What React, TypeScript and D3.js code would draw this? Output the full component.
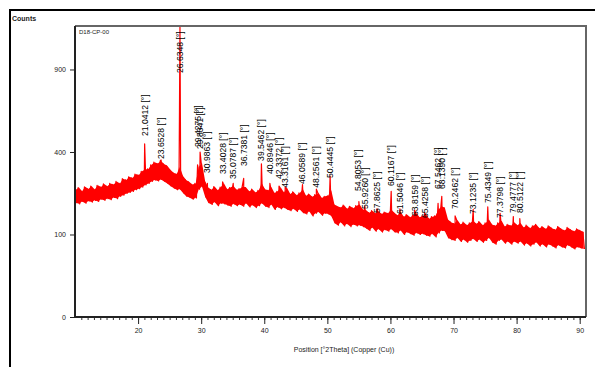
import React, { useRef, useEffect } from 'react';
import * as d3 from 'd3';

// scan starts at 10 °2Theta, one min/max pair of counts every 0.5°
const scanStart = 10;
const scanStep = 0.5;

// upper edge of the noisy band (counts)
const bandHigh = [
    238, 246, 232, 249, 241, 252, 239, 255, 248, 260,
    251, 262, 258, 270, 262, 281, 276, 289, 284, 300,
    296, 312, 320, 322, 340, 352, 346, 358, 344, 336,
    318, 306, 300, 330, 292, 276, 268, 258, 262, 330,
    350, 272, 246, 238, 250, 236, 248, 262, 240, 246,
    252, 238, 242, 250, 246, 232, 240, 228, 236, 262,
    240, 236, 248, 226, 232, 246, 228, 244, 222, 230,
    218, 226, 240, 216, 222, 212, 220, 226, 208, 214,
    216, 236, 186, 180, 176, 184, 172, 180, 174, 182,
    186, 170, 168, 160, 166, 158, 164, 156, 162, 158,
    170, 160, 152, 162, 148, 154, 146, 152, 158, 146,
    150, 156, 142, 148, 150, 170, 180, 175, 140, 132,
    128, 138, 126, 132, 124, 130, 136, 128, 134, 124,
    130, 140, 126, 122, 130, 136, 120, 126, 122, 132,
    124, 130, 118, 124, 116, 122, 126, 116, 120, 114,
    122, 116, 112, 120, 114, 110, 118, 112, 108, 114,
    110, 106,
];

// lower edge of the noisy band (counts)
const bandLow = [
    192, 188, 196, 190, 198, 194, 200, 196, 204, 200,
    206, 202, 210, 206, 214, 218, 224, 228, 232, 238,
    242, 248, 256, 262, 270, 276, 272, 278, 270, 262,
    252, 244, 238, 240, 226, 214, 210, 204, 208, 240,
    250, 212, 192, 186, 194, 182, 190, 188, 184, 180,
    188, 182, 186, 180, 190, 178, 184, 176, 182, 190,
    180, 176, 186, 170, 178, 172, 176, 170, 166, 172,
    164, 170, 160, 156, 164, 150, 158, 162, 152, 158,
    156, 150, 130, 124, 132, 122, 128, 120, 126, 122,
    124, 120, 116, 110, 118, 108, 114, 106, 112, 108,
    114, 106, 104, 110, 100, 106, 102, 98, 104, 100,
    102, 98, 96, 102, 94, 104, 110, 108, 92, 88,
    86, 92, 84, 88, 82, 86, 90, 84, 88, 82,
    86, 92, 82, 78, 86, 88, 80, 84, 78, 84,
    80, 84, 76, 80, 74, 78, 82, 74, 78, 72,
    78, 74, 70, 76, 72, 70, 76, 72, 68, 72,
    70, 68,
];

// reflections (°2Theta, counts at the apex)
const peakPositions = [
    21.04, 23.65, 26.56, 26.64, 26.71, 29.43, 29.83, 30.99, 33.4, 35.08,
    36.74, 39.55, 40.89, 42.34, 43.32, 46.06, 48.26, 50.44, 55.0, 55.93,
    57.86, 60.12, 61.5, 63.82, 65.43, 67.55, 68.14, 70.25, 73.12, 75.43,
    77.38, 79.48, 80.51,
];
const peakCounts = [
    440, 362, 620, 1244, 560, 340, 400, 262, 268, 262,
    282, 345, 262, 252, 248, 258, 240, 292, 196, 180,
    172, 232, 172, 168, 160, 190, 214, 150, 170, 178,
    158, 148, 142,
];

// peak list labels
const labelTexts = [
    '21.0412', '23.6528', '26.6348', '29.4275', '29.8341', '30.9863',
    '33.4028', '35.0787', '36.7381', '39.5462', '40.8946', '42.3372',
    '43.3161', '46.0589', '48.2561', '50.4445', '54.8053', '55.9260',
    '57.8625', '60.1167', '61.5046', '63.8159', '65.4258', '67.5462',
    '68.1390', '70.2462', '73.1235', '75.4349', '77.3798', '79.4777',
    '80.5122',
];
// counts level where each label starts
const labelBase = [
    481, 367, 875, 425, 415, 305, 300, 280, 335, 358, 300, 280,
    245, 260, 245, 284, 233, 171, 159, 252, 156, 150, 144, 241,
    241, 171, 156, 191, 144, 159, 159,
];

const xTicks = [20, 30, 40, 50, 60, 70, 80, 90];
const yTicks = [0, 100, 400, 900];

const font = '"Liberation Sans", Arial, sans-serif';

const App: React.FC = () => {
    const svgRef = useRef<SVGSVGElement | null>(null);

    useEffect(() => {
        if (!svgRef.current) return;
        const svg = d3.select(svgRef.current);
        svg.selectAll('*').remove();

        const left = 75;
        const right = 586;
        const top = 26;
        const bottom = 317;

        const x = d3.scaleLinear().domain([10, 91]).range([left, right]);
        const y = d3.scaleSqrt().domain([0, 1244]).range([bottom, top]);

        // outer frame (cut by the window on right and bottom)
        svg.append('path')
            .attr('d', `M10,400 L10,10 L600,10`)
            .attr('fill', 'none')
            .attr('stroke', '#000')
            .attr('stroke-width', 2);

        svg.append('text')
            .attr('x', 12)
            .attr('y', 21)
            .attr('font-family', font)
            .attr('font-size', 7)
            .attr('font-weight', 'bold')
            .attr('fill', '#222')
            .text('Counts');

        svg.append('clipPath')
            .attr('id', 'plotclip')
            .append('rect')
            .attr('x', left)
            .attr('y', top)
            .attr('width', right - left)
            .attr('height', bottom - top);

        const plot = svg.append('g').attr('clip-path', 'url(#plotclip)');

        // solid body of the noisy band
        const bins = bandHigh.map((h, i) => ({
            t: scanStart + i * scanStep + scanStep / 4,
            hi: h,
            lo: bandLow[i],
        }));
        const area = d3
            .area<{ t: number; hi: number; lo: number }>()
            .x((d) => x(d.t))
            .y0((d) => y(d.lo))
            .y1((d) => y(d.hi))
            .curve(d3.curveLinear);
        plot.append('path')
            .datum(bins)
            .attr('fill', '#ff0000')
            .attr('d', area);

        // scan points: zigzag between band edges, peaks merged in
        const points: { t: number; c: number }[] = [];
        bandHigh.forEach((h, i) => {
            const t = scanStart + i * scanStep;
            points.push({ t, c: h });
            points.push({ t: t + scanStep / 2, c: bandLow[i] });
        });
        peakPositions.forEach((p, i) =>
            points.push({ t: p, c: peakCounts[i] }),
        );
        points.sort((a, b) => a.t - b.t);

        const line = d3
            .line<{ t: number; c: number }>()
            .x((d) => x(d.t))
            .y((d) => y(d.c));

        plot.append('path')
            .datum(points)
            .attr('fill', 'none')
            .attr('stroke', '#ff0000')
            .attr('stroke-width', 1.2)
            .attr('stroke-linejoin', 'round')
            .attr('d', line);

        // peak labels, rotated
        labelTexts.forEach((lab, i) => {
            const px = x(parseFloat(lab));
            const py = y(labelBase[i]);
            svg.append('text')
                .attr('transform', `translate(${px},${py}) rotate(-90)`)
                .attr('dy', '0.35em')
                .attr('font-family', font)
                .attr('font-size', 8.6)
                .attr('fill', '#000')
                .text(`${lab} [°]`);
        });

        // frame: top/right grey, left/bottom dark
        svg.append('path')
            .attr('d', `M${left},${top} L${right},${top} L${right},${bottom}`)
            .attr('fill', 'none')
            .attr('stroke', '#666')
            .attr('stroke-width', 2);
        svg.append('path')
            .attr('d', `M${left},${top} L${left},${bottom} L${right},${bottom}`)
            .attr('fill', 'none')
            .attr('stroke', '#222')
            .attr('stroke-width', 2);

        svg.append('text')
            .attr('x', left + 4)
            .attr('y', top + 8)
            .attr('font-family', font)
            .attr('font-size', 6)
            .attr('fill', '#222')
            .text('D18-CP-00');

        // x axis: minor every degree, major every 10
        const minor = svg
            .append('g')
            .attr('transform', `translate(0,${bottom + 1})`)
            .call(
                d3
                    .axisBottom(x)
                    .tickValues(d3.range(11, 91))
                    .tickSize(2)
                    .tickFormat(() => ''),
            );
        minor.select('.domain').remove();
        minor.selectAll('.tick line').attr('stroke', '#333');

        const gx = svg
            .append('g')
            .attr('transform', `translate(0,${bottom + 1})`)
            .call(
                d3
                    .axisBottom(x)
                    .tickValues(xTicks)
                    .tickSize(6)
                    .tickPadding(4)
                    .tickFormat(d3.format('d')),
            );
        gx.select('.domain').remove();
        gx.selectAll('.tick line').attr('stroke', '#222');
        gx.selectAll('text')
            .attr('font-family', font)
            .attr('font-size', 7)
            .attr('fill', '#222');

        const gy = svg
            .append('g')
            .attr('transform', `translate(${left - 1},0)`)
            .call(
                d3
                    .axisLeft(y)
                    .tickValues(yTicks)
                    .tickSize(4)
                    .tickPadding(4)
                    .tickFormat(d3.format('d')),
            );
        gy.select('.domain').remove();
        gy.selectAll('.tick line').attr('stroke', '#222');
        gy.selectAll('text')
            .attr('font-family', font)
            .attr('font-size', 7)
            .attr('fill', '#222');

        svg.append('text')
            .attr('x', 344)
            .attr('y', 352)
            .attr('text-anchor', 'middle')
            .attr('font-family', font)
            .attr('font-size', 7)
            .attr('fill', '#222')
            .text('Position [°2Theta] (Copper (Cu))');
    }, []);

    return (
        <svg
            ref={svgRef}
            width={595}
            height={367}
            style={{
                position: 'absolute',
                left: 0,
                top: 0,
                background: '#fff',
            }}
        ></svg>
    );
};

export default App;
